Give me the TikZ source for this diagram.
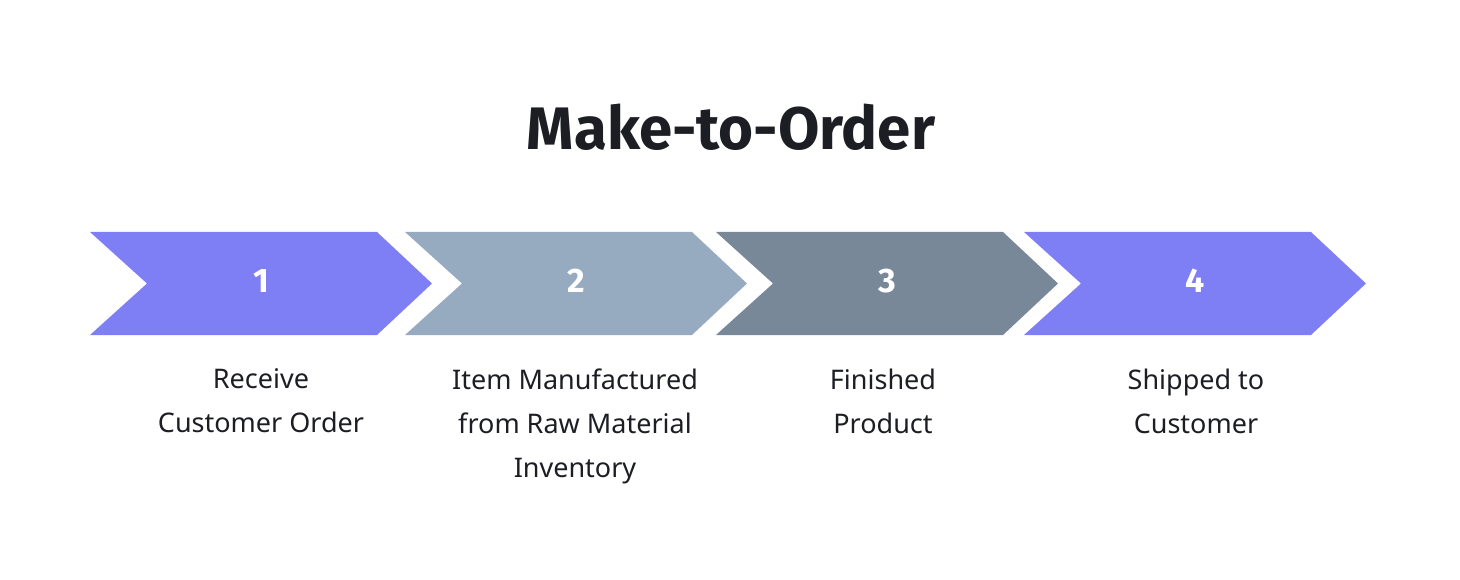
\documentclass[tikz,border=0pt]{standalone}
\usepackage{fontspec}
\setmainfont{Noto Sans}
\newfontfamily\titlefont{Fira Sans}
\definecolor{cA}{HTML}{7F7FF5}
\definecolor{cB}{HTML}{97ABC0}
\definecolor{cC}{HTML}{788898}
\definecolor{txt}{HTML}{1C1E24}
\begin{document}
\begin{tikzpicture}[x=1pt,y=-1pt,
  num/.style={text=white,font=\titlefont\bfseries\fontsize{34}{40}\selectfont},
  lab/.style={text=txt,align=center,anchor=north,font=\fontsize{27}{44}\selectfont}]
\useasboundingbox (0,0) rectangle (1460,580);
\node[text=txt,font=\titlefont\bfseries\fontsize{60}{70}\selectfont] (title) at (731,127) {Make-to-Order};
\foreach \i/\l/\c in {1/90/cA,2/405/cB,3/716/cC,4/1024/cA}{
  \fill[\c] (\l,232) -- (\l+287,232) -- (\l+342,283.5) -- (\l+287,335) -- (\l,335) -- (\l+57,283.5) -- cycle;
  \node[num] (n\i) at (\l+171,281) {\i};
}
\node[lab] (l1) at (261,365) {Receive\\Customer Order};
\node[lab] (l2) at (575,365) {Item Manufactured\\from Raw Material\\Inventory};
\node[lab] (l3) at (883,365) {Finished\\Product};
\node[lab] (l4) at (1196,365) {Shipped to\\Customer};
\end{tikzpicture}
\end{document}
